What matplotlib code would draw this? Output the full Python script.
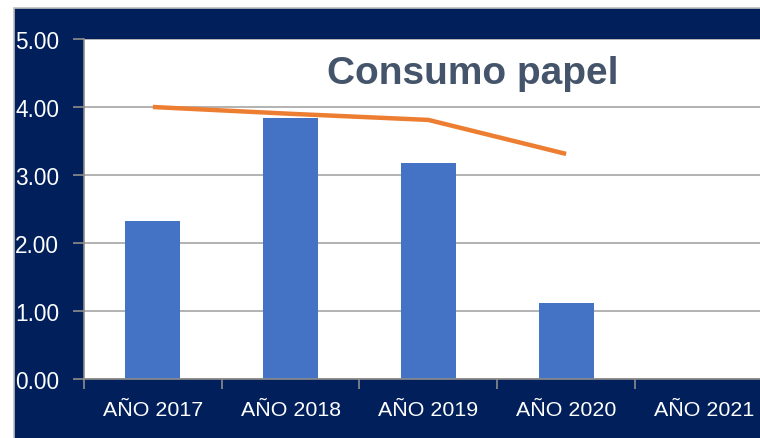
import matplotlib
matplotlib.use("Agg")
import matplotlib.pyplot as plt
from matplotlib.patches import Rectangle
import numpy as np

years = ['AÑO 2017', 'AÑO 2018', 'AÑO 2019', 'AÑO 2020', 'AÑO 2021']
consumo = [2.33, 3.84, 3.17, 1.12, 0.0]
meta = [4.00, 3.90, 3.81, 3.31]
y_ticks = [0, 1, 2, 3, 4, 5]

navy = '#001f5b'
bar_blue = '#4472c4'
line_orange = '#ed7d31'
grid_gray = '#a6a6a6'
font = 'Liberation Sans'

W, H = 760, 439
fig = plt.figure(figsize=(W / 100, H / 100), dpi=100)
fig.patch.set_facecolor('white')

# navy panel behind the chart
fig.patches.append(Rectangle((14 / W, -0.01), 1.0, (H - 9) / H + 0.01,
                             transform=fig.transFigure, facecolor=navy,
                             edgecolor='#bfbfbf', linewidth=1.2, zorder=-5))

ax = fig.add_axes([84 / W, 1 - 380 / H, 688.75 / W, 340 / H])
ax.set_zorder(1)
ax.set_facecolor('white')

x = np.arange(len(years))
ax.bar(x, consumo, width=0.4, color=bar_blue, zorder=2)
ax.plot(x[:len(meta)], meta, color=line_orange, linewidth=3.2,
        solid_capstyle='butt', zorder=3)

ax.set_xlim(-0.5, len(years) - 0.5)
ax.set_ylim(0, 5)
ax.set_yticks(y_ticks)
ax.set_yticklabels([f'{v:.2f}' for v in y_ticks], color='white',
                   fontsize=16.3, family=font)
ax.set_xticks(x)
ax.set_xticklabels(years, color='white', fontsize=15.4, family=font)
ax.set_xticks(np.arange(-0.5, len(years)), minor=True)

ax.tick_params(axis='x', which='major', length=0, pad=15)
ax.tick_params(axis='x', which='minor', length=7, color='#8c8c8c', width=1.2)
ax.tick_params(axis='y', length=8, color='#8c8c8c', width=1.2, pad=10)

ax.grid(axis='y', color=grid_gray, linewidth=1.2, zorder=1)
ax.set_axisbelow(True)
for side in ['top', 'right']:
    ax.spines[side].set_visible(False)
for side in ['left', 'bottom']:
    ax.spines[side].set_color('#8c8c8c')
    ax.spines[side].set_linewidth(1.2)

ax.text(2.32, 4.35, 'Consumo papel', ha='center', va='baseline',
        fontsize=28, fontweight='bold', color='#44546a', family=font,
        zorder=4)

fig.savefig('out.png', dpi=100)
